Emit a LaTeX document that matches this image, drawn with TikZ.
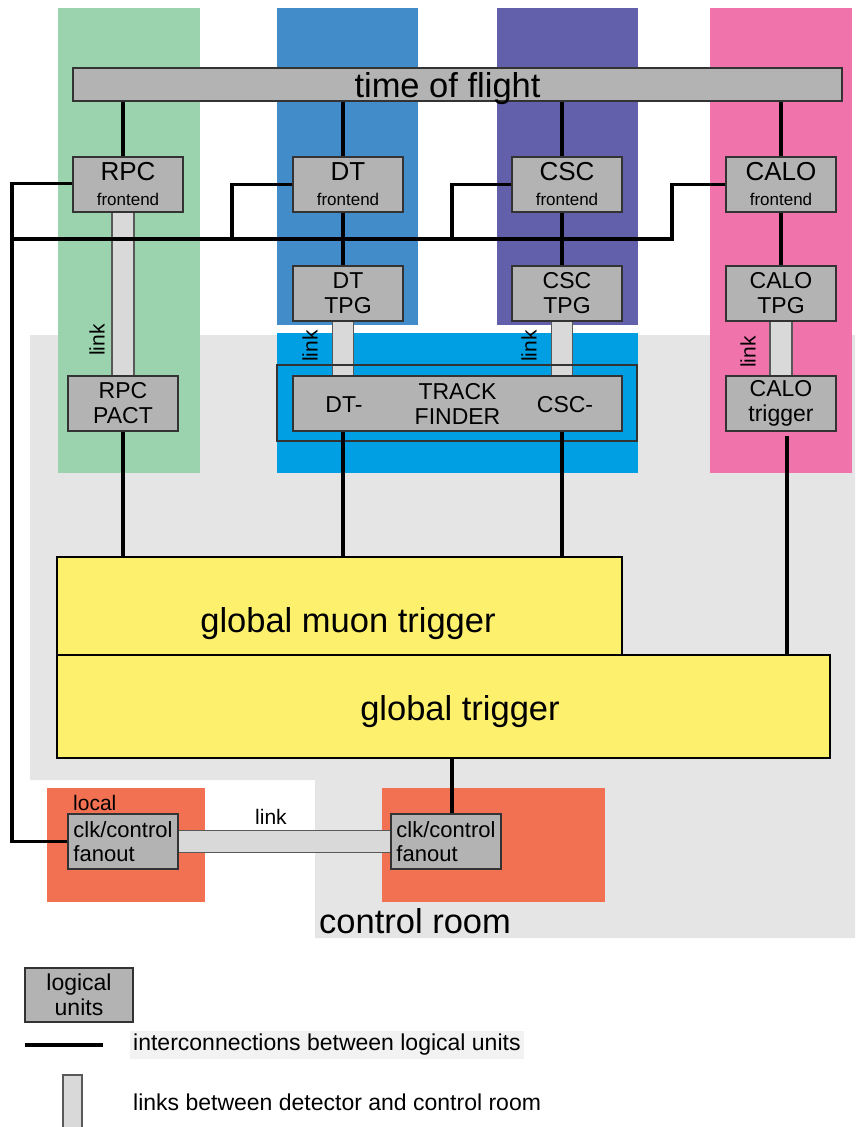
\documentclass[tikz,border=0pt]{standalone}
\usepackage{fontspec}
\setmainfont{Liberation Sans}
\usetikzlibrary{calc}
\newcommand\fsz[1]{\fontsize{#1}{#1}\selectfont}
\newcommand\fszb[2]{\fontsize{#1}{#2}\selectfont}
\definecolor{cgreen}{HTML}{9BD3AE}
\definecolor{cblue}{HTML}{438CCA}
\definecolor{cpurple}{HTML}{6260AA}
\definecolor{cpink}{HTML}{F173AC}
\definecolor{ccyan}{HTML}{009FE3}
\definecolor{cbg}{HTML}{E5E5E5}
\definecolor{cbox}{HTML}{B3B3B3}
\definecolor{clink}{HTML}{D9D9D9}
\definecolor{cyellow}{HTML}{FDF06C}
\definecolor{corange}{HTML}{F27153}
\definecolor{clegbg}{HTML}{F2F2F2}
\pgfdeclarelayer{bg}\pgfdeclarelayer{mid}\pgfsetlayers{bg,mid,main}
\begin{document}
\begin{tikzpicture}[x=1pt,y=-1pt,
  lu/.style={draw=black!80,line width=1.2pt,fill=cbox,inner sep=0pt,align=center,
    minimum width=110pt,minimum height=55pt,font=\fszb{23}{25}},
  fe/.style={lu},
  ybox/.style={draw=black,line width=1.2pt,fill=cyellow,inner sep=0pt},
  conn/.style={line width=3.5pt,black},
  linkbar/.style={draw=black!65,line width=1.2pt,fill=clink},
  linklabel/.style={font=\fsz{21},inner sep=0pt}]
\useasboundingbox (0,0) rectangle (855,1127);
% column x positions
\coordinate (xR) at (123,0);
\coordinate (xD) at (343,0);
\coordinate (xC) at (562,0);
\coordinate (xK) at (781,0);
\coordinate (xT) at (787,0);
\coordinate (xG) at (452,0);
% backgrounds
\begin{pgfonlayer}{bg}
\fill[cbg] (30,335) -- (855,335) -- (855,938) -- (315,938) -- (315,780) -- (30,780) -- cycle;
\fill[cgreen] (58,8) rectangle (200,473);
\fill[cblue] (277,8) rectangle (418,325);
\fill[cpurple] (497,8) rectangle (638,325);
\fill[cpink] (710,8) rectangle (852,473);
\fill[ccyan] (277,333) rectangle (638,473);
\fill[corange] (47,788) rectangle (205,902);
\fill[corange] (382,788) rectangle (605,902);
\end{pgfonlayer}
% logical units
\node[lu,minimum width=769pt,minimum height=33pt,font=\fsz{34.5},text depth=0pt] (tof) at (457.5,84.5) {\hspace*{-20pt}time of flight};
\node[fe] (rpcfe) at (128,184.5) {\fszb{26}{22}RPC\\\fszb{17}{22}frontend};
\node[fe] (dtfe) at (348,184.5) {\fszb{26}{22}DT\\\fszb{17}{22}frontend};
\node[fe] (cscfe) at (567,184.5) {\fszb{26}{22}CSC\\\fszb{17}{22}frontend};
\node[fe] (calofe) at (781,184.5) {\fszb{26}{22}CALO\\\fszb{17}{22}frontend};
\node[lu] (dttpg) at (348,293.5) {DT\\TPG};
\node[lu] (csctpg) at (567,293.5) {CSC\\TPG};
\node[lu] (calotpg) at (781,293.5) {CALO\\TPG};
\node[lu] (rpcpact) at (123,403.5) {RPC\\PACT};
\node[lu,minimum width=329pt] (tf) at (457.5,403.5) {TRACK\\FINDER};
\node[font=\fsz{23},inner sep=0pt] (dtm) at (344,405) {DT-};
\node[font=\fsz{23},inner sep=0pt] (cscm) at (565,405) {CSC-};
\node[lu] (calotrig) at (781,403.5) {CALO\\trigger};
\node[ybox,minimum width=565pt,minimum height=98pt,
  label={[font=\fsz{34.5},xshift=8.5pt,yshift=-18pt]center:global muon trigger}] (gmt) at (339.5,606) {};
\node[ybox,minimum width=773pt,minimum height=103pt,
  label={[font=\fsz{34.5},xshift=16.5pt,yshift=-5.5pt]center:global trigger}] (gt) at (443.5,706.5) {};
\node[lu,align=left,font=\fszb{22}{24}] (lfan) at (123,841.5) {clk/control\\fanout};
\node[lu,align=left,font=\fszb{22}{24}] (crfan) at (446,841.5) {clk/control\\fanout};
\node[font=\fsz{21},anchor=west,inner sep=0pt] (loc) at (73,803) {local};
\node[font=\fsz{34.5},anchor=west,inner sep=0pt] (cr) at (319,921) {control room};
% links and connectors
\begin{pgfonlayer}{mid}
\draw[linkbar] ($(xR|-rpcfe.south)+(-11,0)$) rectangle ($(xR|-rpcpact.north)+(11,0)$);
\draw[linkbar] ($(xD|-dttpg.south)+(-10.5,0)$) rectangle ($(xD|-tf.north)+(10.5,0)$);
\draw[linkbar] ($(xC|-csctpg.south)+(-10.5,0)$) rectangle ($(xC|-tf.north)+(10.5,0)$);
\draw[linkbar] ($(xK|-calotpg.south)+(-11,0)$) rectangle ($(xK|-calotrig.north)+(11,0)$);
\draw[linkbar] ($(lfan.east)+(0,-11)$) rectangle ($(crfan.west)+(0,11)$);
\draw[black!80,line width=1.2pt] (277,365) rectangle (637,441);
% connectors
\draw[conn] (tof.south -| xR) -- (rpcfe.north -| xR);
\draw[conn] (tof.south -| xD) -- (dtfe.north -| xD);
\draw[conn] (tof.south -| xC) -- (cscfe.north -| xC);
\draw[conn] (tof.south -| xK) -- (calofe.north -| xK);
\draw[conn] (dtfe.south -| xD) -- (dttpg.north -| xD);
\draw[conn] (cscfe.south -| xC) -- (csctpg.north -| xC);
\draw[conn] (calofe.south -| xK) -- (calotpg.north -| xK);
\coordinate (lt) at (12,183.5);
\draw[conn] (rpcfe.west |- lt) -- (lt) |- (lfan.west);
\coordinate (busL) at (12,239);
\coordinate (busR) at (672,239);
\coordinate (jD) at (232,239);
\coordinate (jC) at (452,239);
\draw[conn] (busL) -- (busR) |- (calofe.west);
\draw[conn] (jD) |- (dtfe.west);
\draw[conn] (jC) |- (cscfe.west);
\draw[conn] (rpcpact.south) -- (rpcpact.south |- gmt.north);
\draw[conn] (tf.south -| xD) -- (gmt.north -| xD);
\draw[conn] (tf.south -| xC) -- (gmt.north -| xC);
\draw[conn] ($(calotrig.south -| xT)+(0,4)$) -- (gt.north -| xT);
\draw[conn] (gt.south -| xG) -- (crfan.north -| xG);
\end{pgfonlayer}
% link labels
\node[linklabel,rotate=90] (lk1) at (97,340) {link};
\node[linklabel,rotate=90] (lk2) at (310,346) {link};
\node[linklabel,rotate=90] (lk3) at (529,346) {link};
\node[linklabel,rotate=90] (lk4) at (748,352) {link};
\node[linklabel] (lk5) at (271,817) {link};
% legend
\node[lu,minimum width=108pt,minimum height=54pt] (leglu) at (79,995) {logical\\units};
\coordinate (legA) at (25,1045);
\coordinate (legB) at (103,1045);
\draw[conn] (legA) -- (legB);
\node[anchor=west,font=\fsz{23},fill=clegbg,inner xsep=3pt,minimum height=25pt] (legt1) at (130,1045) {interconnections between logical units};
\draw[linkbar] (63,1075) rectangle (82,1140);
\node[anchor=west,font=\fsz{23},inner xsep=3pt] (legt2) at (130,1102) {links between detector and control room};
\end{tikzpicture}
\end{document}
